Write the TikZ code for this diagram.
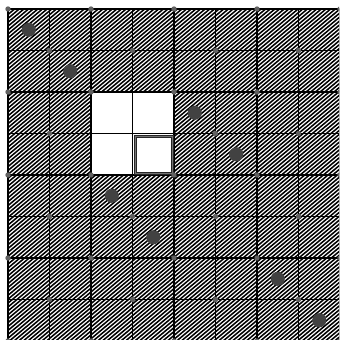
\documentclass[tikz,border=0pt]{standalone}
\begin{document}
\begin{tikzpicture}[x=1cm,y=1cm,
  gridline/.style={line width=1.35pt,black},
  hatchline/.style={line width=1.05pt,black},
  bigdot/.style={fill=black!74},
  smalldot/.style={fill=black!62}]
\useasboundingbox (-0.193,-7.976) rectangle (7.976,0.217);
\clip (-0.193,-7.976) rectangle (7.976,0.217);
% board
\fill[white] (-0.193,-7.976) rectangle (7.976,0.217);
\begin{scope}
\clip (0,0) rectangle (8,-8);
\foreach \t in {-9.6,-9.488,...,8}
  \draw[hatchline] (\t,-8) -- ++(9.534,8);
\end{scope}
\fill[white] (2,-2) rectangle (4,-4);
\draw[gridline] (0,0) grid (8,-8);
\draw[gridline] (0,0) rectangle (8,-8);
% marked square
\draw[draw=black!85,double=black!55,double distance=1pt,line width=0.6pt] (3.07,-3.07) rectangle (3.96,-3.96);
% corner marks
\foreach \i in {0,...,8}
  \foreach \j in {0,...,8} {
    \pgfmathtruncatemacro\s{mod(\i+\j,2)}
    \ifnum\s=0 \ifnum\i\j=33 \else
      \fill[smalldot] (\i,-\j) circle (0.065);
    \fi\fi
  }
% pieces
\foreach \col/\row in {0/0,1/1,4/2,5/3,2/4,3/5,6/6,7/7}
  \fill[bigdot] (\col+0.5,-\row-0.5) circle (0.17);
\end{tikzpicture}
\end{document}
